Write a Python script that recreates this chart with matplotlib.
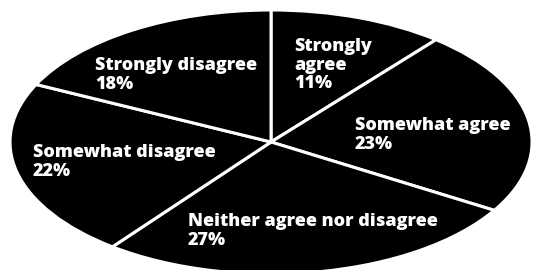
import matplotlib
matplotlib.use("Agg")
import matplotlib.pyplot as plt

# DATOS
categorias = ["Strongly\nagree", "Somewhat agree", "Neither agree nor disagree",
              "Somewhat disagree", "Strongly disagree"]
valores = [11, 23, 27, 22, 18]

# posiciones de las etiquetas (esquina superior izquierda, coordenadas del eje)
pos_etiquetas = [(0.090, 0.789), (0.321, 0.188), (-0.318, -0.539),
                 (-0.913, -0.017), (-0.675, 0.641)]

fig = plt.figure(figsize=(5.33, 2.70), dpi=100)
ax = fig.add_axes([0.0188, -0.0148, 0.9794, 0.9778])

ax.pie(
    valores,
    startangle=90,
    counterclock=False,
    colors=["black"] * len(valores),
    wedgeprops=dict(edgecolor="white", linewidth=2.2),
)
ax.set_aspect("auto")
ax.set_xlim(-1, 1)
ax.set_ylim(-1, 1)
ax.axis("off")

for cat, val, (x, y) in zip(categorias, valores, pos_etiquetas):
    ax.text(x, y, f"{cat}\n{val}%", color="white", fontsize=13,
            fontweight="heavy", family="Open Sans", ha="left", va="top",
            linespacing=1.14)

fig.savefig("out.png", dpi=100, facecolor="white")
